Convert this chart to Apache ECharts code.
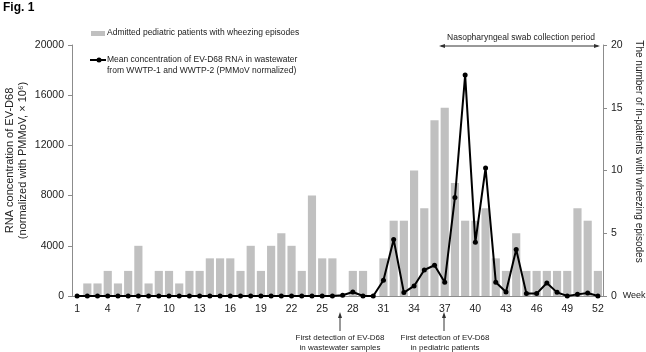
<!DOCTYPE html>
<html>
<head>
<meta charset="utf-8">
<script src="https://cdn.jsdelivr.net/npm/echarts@6/dist/echarts.min.js"></script>
<style>
  html, body { margin: 0; padding: 0; background: #fff; }
  #main { width: 646px; height: 352px; }
</style>
</head>
<body>
<div id="main"></div>
<script>
// weeks 1..52
var weeks = [];
for (var w = 1; w <= 52; w++) weeks.push(String(w));

// admitted pediatric patients with wheezing episodes (right axis)
var patients = [0, 1, 1, 2, 1, 2, 4, 1, 2, 2, 1, 2, 2, 3, 3, 3, 2, 4, 2, 4,
  5, 4, 2, 8, 3, 3, 0, 2, 2, 0, 3, 6, 6, 10, 7, 14, 15, 9, 6, 6,
  7, 3, 2, 5, 2, 2, 2, 2, 2, 7, 6, 2];

// mean EV-D68 RNA concentration in wastewater (left axis)
var rna = [0, 0, 0, 0, 0, 0, 0, 0, 0, 0, 0, 0, 0, 0, 0, 0, 0, 0, 0, 0,
  0, 0, 0, 0, 0, 0, 60, 320, 0, 0, 1250, 4500, 270, 800, 2070, 2450, 1100, 7850, 17600, 4280,
  10200, 1100, 320, 3700, 190, 190, 1040, 290, 0, 130, 240, 0];

var leftTicks = { min: 0, max: 20000, interval: 4000 };
var rightTicks = { min: 0, max: 20, interval: 5 };

var font = 'Liberation Sans, Arial, sans-serif';
var txt = '#222';
var axisCol = '#8c8c8c';

var myChart = echarts.init(document.getElementById('main'));
myChart.setOption({
  animation: false,
  textStyle: { fontFamily: font },
  grid: { left: 72, right: 43, top: 45, bottom: 56, containLabel: false, outerBoundsMode: 'none' },
  xAxis: {
    type: 'category',
    data: weeks,
    name: 'Week',
    nameLocation: 'end',
    nameGap: 18,
    nameTextStyle: { color: txt, fontSize: 9, verticalAlign: 'middle', align: 'left' },
    axisLine: { lineStyle: { color: axisCol } },
    axisTick: { show: false },
    axisLabel: { interval: 2, color: txt, fontSize: 10.5, margin: 8 }
  },
  yAxis: [{
    type: 'value',
    min: leftTicks.min, max: leftTicks.max, interval: leftTicks.interval,
    name: 'RNA concentration of EV-D68\n(normalized with PMMoV, \u00d7 10\u2076)',
    nameLocation: 'middle',
    nameGap: 43,
    nameMoveOverlap: false,
    nameTextStyle: { color: txt, fontSize: 11, lineHeight: 13, padding: [0, 0, 0, 20] },
    axisLine: { show: true, lineStyle: { color: axisCol } },
    axisTick: { show: true, length: 4, lineStyle: { color: axisCol } },
    axisLabel: { color: txt, fontSize: 10.5, margin: 8, formatter: function (v) { return String(v); } },
    splitLine: { show: false }
  }, {
    type: 'value',
    position: 'right',
    min: rightTicks.min, max: rightTicks.max, interval: rightTicks.interval,
    name: 'The number of in-patients with wheezing episodes',
    nameLocation: 'middle',
    nameRotate: -90,
    nameGap: 29,
    nameTextStyle: { color: txt, fontSize: 10, padding: [0, 38, 0, 0] },
    axisLine: { show: true, lineStyle: { color: axisCol } },
    axisTick: { show: true, length: 4, lineStyle: { color: axisCol } },
    axisLabel: { color: txt, fontSize: 10.5, margin: 8 },
    splitLine: { show: false }
  }],
  series: [{
    name: 'Admitted pediatric patients with wheezing episodes',
    type: 'bar',
    yAxisIndex: 1,
    data: patients,
    barCategoryGap: '20%',
    itemStyle: { color: '#c0c0c0' },
    z: 1
  }, {
    name: 'Mean concentration of EV-D68 RNA in wastewater',
    type: 'line',
    yAxisIndex: 0,
    data: rna,
    symbol: 'circle',
    symbolSize: 5,
    lineStyle: { color: '#000', width: 2 },
    itemStyle: { color: '#000' },
    z: 3
  }],
  graphic: [
    { type: 'text', left: 3, top: 2, style: { text: 'Fig. 1', font: 'bold 12px ' + font, fill: '#000' } },
    // legend
    { type: 'rect', shape: { x: 91, y: 31, width: 14, height: 5 }, style: { fill: '#c0c0c0' } },
    { type: 'text', x: 107, y: 33, style: { text: 'Admitted pediatric patients with wheezing episodes', font: '8.5px ' + font, fill: txt, textVerticalAlign: 'middle' } },
    { type: 'line', shape: { x1: 90, y1: 60, x2: 106, y2: 60 }, style: { stroke: '#000', lineWidth: 2 } },
    { type: 'circle', shape: { cx: 99, cy: 60, r: 2.5 }, style: { fill: '#000' } },
    { type: 'text', x: 107, y: 54, style: { text: 'Mean concentration of EV-D68 RNA in wastewater\nfrom WWTP-1 and WWTP-2 (PMMoV normalized)', font: '8.5px ' + font, fill: txt, lineHeight: 11 } },
    // collection period
    { type: 'text', x: 521, y: 38, style: { text: 'Nasopharyngeal swab collection period', font: '8.5px ' + font, fill: txt, textAlign: 'center', textVerticalAlign: 'middle' } },
    { type: 'line', shape: { x1: 441, y1: 46, x2: 598, y2: 46 }, style: { stroke: '#333', lineWidth: 1 } },
    { type: 'polygon', shape: { points: [[439, 46], [445, 44], [445, 48]] }, style: { fill: '#333' } },
    { type: 'polygon', shape: { points: [[600, 46], [594, 44], [594, 48]] }, style: { fill: '#333' } },
    // first detection arrows
    { type: 'line', shape: { x1: 340, y1: 316, x2: 340, y2: 331 }, style: { stroke: '#333', lineWidth: 1 } },
    { type: 'polygon', shape: { points: [[340, 312], [338, 318], [342, 318]] }, style: { fill: '#333' } },
    { type: 'text', x: 340, y: 333, style: { text: 'First detection of EV-D68\nin wastewater samples', font: '8px ' + font, fill: txt, textAlign: 'center', lineHeight: 10 } },
    { type: 'line', shape: { x1: 444, y1: 316, x2: 444, y2: 331 }, style: { stroke: '#333', lineWidth: 1 } },
    { type: 'polygon', shape: { points: [[444, 312], [442, 318], [446, 318]] }, style: { fill: '#333' } },
    { type: 'text', x: 445, y: 333, style: { text: 'First detection of EV-D68\nin pediatric patients', font: '8px ' + font, fill: txt, textAlign: 'center', lineHeight: 10 } }
  ]
});
</script>
</body>
</html>
